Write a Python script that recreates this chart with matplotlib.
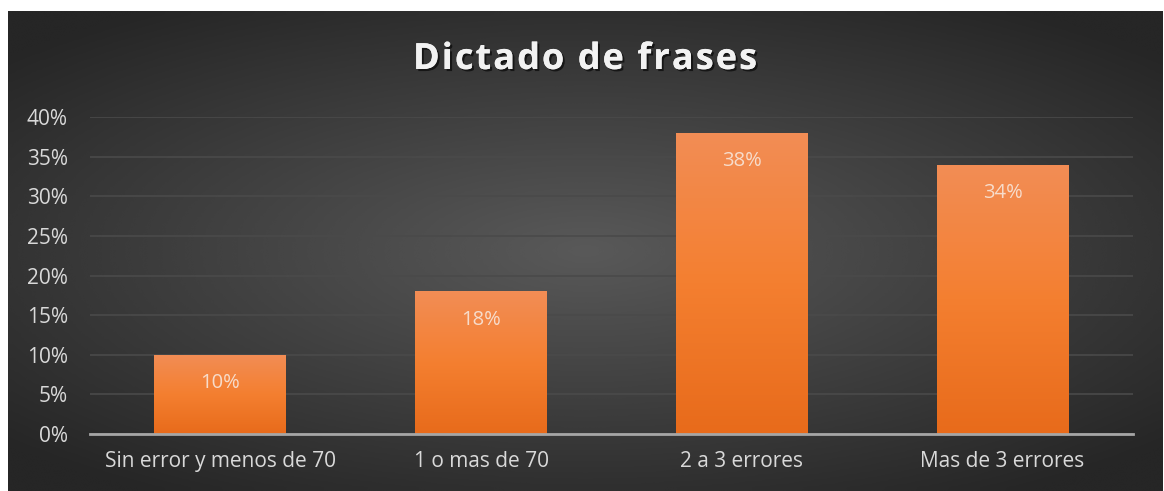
import matplotlib
matplotlib.use("Agg")
import matplotlib.pyplot as plt
import matplotlib.patheffects as pe
from matplotlib.colors import LinearSegmentedColormap
import numpy as np

categories = ["Sin error y menos de 70", "1 o mas de 70", "2 a 3 errores", "Mas de 3 errores"]
values = [10, 18, 38, 34]
yticks = [0, 5, 10, 15, 20, 25, 30, 35, 40]
title = "Dictado de frases"

W, H = 1164, 491
fig = plt.figure(figsize=(W / 100, H / 100), dpi=100)
fig.patch.set_facecolor("white")

# fondo oscuro con degradado radial
bg = fig.add_axes([8 / W, 0, (1163 - 8) / W, (491 - 11) / H])
yy, xx = np.mgrid[-1:1:200j, -1:1:400j]
r = np.sqrt(xx ** 2 + (yy / 0.9) ** 2)
shade = 0.35 - 0.2 * np.clip(r / 1.35, 0, 1)
bg.imshow(shade, cmap="gray", vmin=0, vmax=1, aspect="auto",
          extent=[0, 1, 0, 1], interpolation="bicubic")
bg.set_axis_off()

ax = fig.add_axes([90 / W, (H - 434) / H, (1133 - 90) / W, (434 - 117) / H])
ax.set_facecolor("none")
x = np.arange(len(categories))

grad = np.linspace(0, 1, 100).reshape(-1, 1)
cmap = LinearSegmentedColormap.from_list("org", ["#e86b1b", "#f47f30", "#f28d55"])
bw = 0.506
bars = ax.bar(x, values, width=bw, color="none", zorder=3)
for b, v in zip(bars, values):
    x0 = b.get_x()
    im = ax.imshow(grad, cmap=cmap, aspect="auto", origin="lower",
                   extent=[x0, x0 + bw, 0, v], zorder=3)
    im.set_clip_path(b)
    ax.text(x0 + bw / 2, v - 3.6, f"{v}%", ha="center", va="center",
            color="#f7dccb", fontsize=14.5, family="Open Sans", zorder=4)

ax.set_aspect("auto")
ax.set_xlim(-0.5, len(categories) - 0.5)
ax.set_ylim(0, 40)
ax.set_yticks(yticks)
ax.set_yticklabels([f"{t}%" for t in yticks])
ax.set_xticks(x)
ax.set_xticklabels(categories)
ax.yaxis.grid(True, color="#4a4a4a", linewidth=1.2, zorder=0)
ax.set_axisbelow(True)
for s in ["top", "right", "left"]:
    ax.spines[s].set_visible(False)
ax.spines["bottom"].set_color("#a6a6a6")
ax.spines["bottom"].set_linewidth(2)
ax.spines["bottom"].set_zorder(5)
ax.tick_params(length=0, colors="#d9d9d9", labelsize=15)
ax.tick_params(axis="y", pad=16)
ax.tick_params(axis="x", pad=12)
for lab in ax.get_xticklabels() + ax.get_yticklabels():
    lab.set_family("Open Sans")

# titulo con espaciado entre letras
tkw = dict(fontsize=26, fontweight="bold", color="#f2f2f2", family="Open Sans",
           va="center", ha="left",
           path_effects=[pe.withSimplePatchShadow(offset=(1.5, -1.5), shadow_rgbFace="black", alpha=0.6),
                         pe.Normal()])
renderer = fig.canvas.get_renderer()
def width(s):
    t = fig.text(0, 0, s, **tkw)
    w = t.get_window_extent(renderer).width
    t.remove()
    return w
adv = [width("l" + c + "l") - width("ll") for c in title]
target = 757 - 413
gap = (target - sum(adv)) / (len(title) - 1)
cx = 413
ty = (H - 60) / H
for c, a in zip(title, adv):
    if c != " ":
        fig.text(cx / W, ty, c, **tkw)
    cx += a + gap

fig.savefig("out.png", dpi=100)
